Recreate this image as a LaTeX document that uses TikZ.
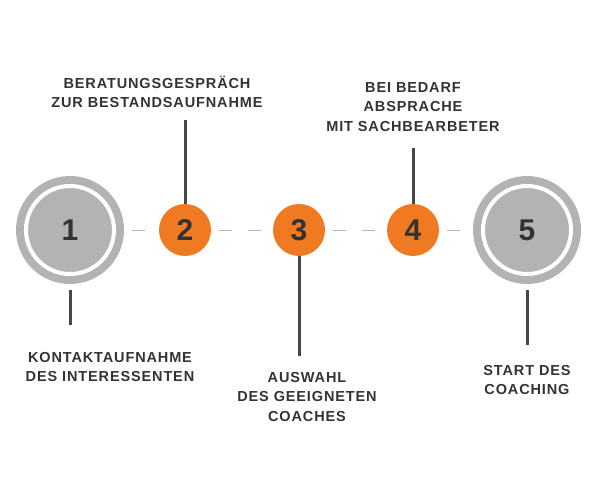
\documentclass[tikz,border=0pt]{standalone}
\usepackage{fontspec}
\setmainfont{Liberation Sans}
\usetikzlibrary{positioning}
\definecolor{orng}{HTML}{F07A22}
\definecolor{gry}{HTML}{B3B3B3}
\definecolor{txt}{HTML}{333333}
\tikzset{
  big/.style={circle,fill=gry,draw=white,line width=4pt,minimum size=88pt,inner sep=0pt,font=\fontsize{30}{30}\bfseries,text=txt},
  small/.style={circle,fill=orng,minimum size=52pt,inner sep=0pt,font=\fontsize{30}{30}\bfseries,text=txt},
  lbl/.style={align=center,font=\fontsize{14.5}{19.5}\selectfont\bfseries\addfontfeature{LetterSpace=6},text=txt},
  stem/.style={txt!90,line width=3pt},
  dsh/.style={gry,line width=1pt}
}
\begin{document}
\begin{tikzpicture}[x=1pt,y=-1pt]
\useasboundingbox (0,0) rectangle (600,500);
\fill[gry] (70,230) circle (54);
\fill[gry] (527,230) circle (54);
\node[big] (c1) at (70,230) {1};
\node[small] (c2) at (185,230) {2};
\node[small] (c3) at (299,230) {3};
\node[small] (c4) at (413,230) {4};
\node[big] (c5) at (527,230) {5};
% dashes
\draw[dsh] (132,230) -- (145,230);
\foreach \x in {219,248,333,362,447}
  \draw[dsh] (\x,230) -- ++(13,0);
% labels
\node[lbl] (t2) at (157,92) {BERATUNGSGESPRÄCH\\ZUR BESTANDSAUFNAHME};
\node[lbl] (t4) at (413,107) {BEI BEDARF\\ABSPRACHE\\MIT SACHBEARBETER};
\node[lbl] (t1) at (110,367) {KONTAKTAUFNAHME\\DES INTERESSENTEN};
\node[lbl] (t3) at (307,397) {AUSWAHL\\DES GEEIGNETEN\\COACHES};
\node[lbl] (t5) at (527,380) {START DES\\COACHING};
\coordinate (a2) at (185,120);
\coordinate (a4) at (413,148);
\coordinate (a1) at (70,325);
\coordinate (a3) at (299,356);
\coordinate (a5) at (527,345);
\draw[stem] (a2) -- (c2.north);
\draw[stem] (a4) -- (c4.north);
\draw[stem] (70,290) -- (a1);
\draw[stem] (c3.south) -- (a3);
\draw[stem] (527,290) -- (a5);
\end{tikzpicture}
\end{document}
